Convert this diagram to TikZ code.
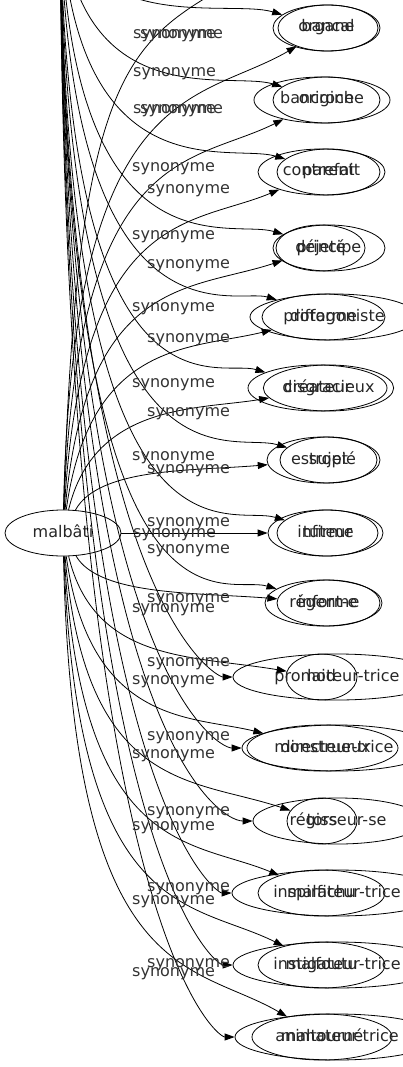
\documentclass[tikz,border=0pt]{standalone}
\usepackage{fontspec}
\setmainfont{DejaVu Sans}
\usetikzlibrary{arrows.meta,shapes.geometric}

\begin{document}
\begin{tikzpicture}[
  x=1pt, y=-1pt,
  word/.style={ellipse, draw, line width=0.8pt, inner sep=0pt,
               minimum height=46pt, minimum width=#1,
               text height=11.5pt, text depth=3.5pt,
               font=\fontsize{16}{18}\selectfont, text=black!85},
  lbl/.style={anchor=west, inner sep=0pt,
              text height=11.5pt, text depth=3.5pt,
              font=\fontsize{16}{18}\selectfont, text=black!80},
  arr/.style={-{Triangle[length=10pt,width=7pt]}, line width=0.8pt}
]
  \useasboundingbox (0,0) rectangle (403,1067);

  \node[word=116pt] (malbati) at (63,533) {malbâti};
  \coordinate (hub) at (60,-120);
  \coordinate (r0) at (275,-45);

  % row / y / word of malbati / x / width / other word / x / width
  \foreach \i/\y/\ta/\xa/\wa/\tb/\xb/\wb in {
    1/28/bancal/328/100/organe/326.5/107,
    2/100/bancroche/322/136/origine/326.5/107,
    3/172/contrefait/321.5/127/parent/328.5/103,
    4/248/déjeté/320.5/89/principe/329/112,
    5/317/difforme/323.5/123/protagoniste/334/168,
    6/388/disgracieux/328.5/113/créateur/317.5/139,
    7/460/estropié/323.5/113/sujet/328.5/97,
    8/533/infirme/325.5/115/tuteur/327.5/101,
    9/603/informe/328.5/103/régent-e/323.5/117,
    10/677/laid/321.5/71/promoteur-trice/337/208,
    11/748/monstrueux/322.5/151/directeur-trice/337/190,
    12/821/tors/322/70/régisseur-se/338/170,
    13/893/malfichu/321.5/127/inspirateur-trice/337/210,
    14/965/malfoutu/321.5/127/instigateur-trice/337/208,
    15/1037/maltourné/322/140/animateur-trice/337/204}
  {
    \node[word=\wa pt] (a\i) at (\xa,\y) {\ta};
    \node[word=\wb pt] (b\i) at (\xb,\y) {\tb};
  }

  % edges from malbati
  \draw[arr] (malbati) .. controls +(15,-520) and +(-130,87) .. (r0);
  \foreach \i/\y in {1/28,2/100,3/172,4/248,5/317,6/388,7/460}{
    \pgfmathsetmacro\dy{533-\y}
    \draw[arr] (malbati) .. controls +({10+0.3*(500-\dy)/5},{-0.9*\dy}) and +(-130,{0.15*\dy}) .. (a\i);
  }
  \draw[arr] (malbati) -- (a8);
  \foreach \i/\y in {9/603,10/677,11/748,12/821,13/893,14/965,15/1037}{
    \pgfmathsetmacro\dy{\y-533}
    \draw[arr] (malbati) .. controls +({10+0.3*(500-\dy)/5},{0.9*\dy}) and +(-130,{-0.15*\dy}) .. (a\i);
  }

  % edges from the node above
  \draw[arr] (hub) .. controls +(0,90) and +(-100,-30) .. (r0);
  \foreach \i/\y in {1/28,2/100,3/172,4/248,5/317,6/388,7/460,8/533,9/603}
    \draw[arr] (hub) .. controls +(0,{1.1*(\y+120)}) and +(-100,-30) .. (b\i);
  \foreach \i/\y in {10/677,11/748,12/821,13/893,14/965,15/1037}
    \draw[arr] (hub) .. controls +(0,{0.9*(\y+120)}) and +(-120,0) .. (b\i);

  % edge labels
  \foreach \lx/\ly [count=\n] in {133/35,140/35,133/73,133/110,140/110,
      132/168,147/190,132/236,147/265,132/307,147/338,132/383,147/412,
      132/456,147/469,147/522,133/533,147/549,
      147/598,132/608,147/662,132/680,147/736,132/754,
      147/811,132/826,147/887,132/900,147/963,132/972}
    \node[lbl] (s\n) at (\lx,\ly) {synonyme};
\end{tikzpicture}
\end{document}
